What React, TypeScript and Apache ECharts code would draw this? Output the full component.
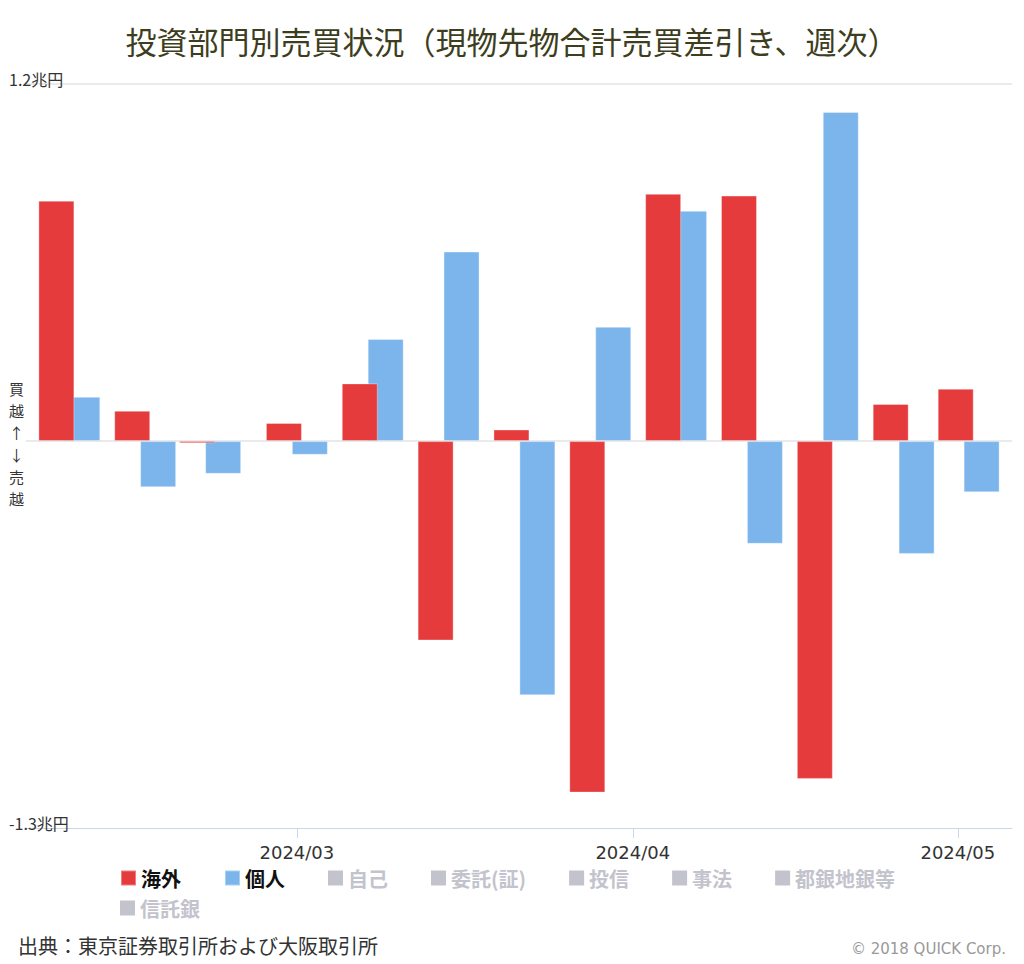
import React, { useEffect, useRef } from "react";
import * as echarts from "echarts";

// ---- data ----
const weekDates = [
  "2024-02-09", "2024-02-16", "2024-02-22", "2024-03-01", "2024-03-08",
  "2024-03-15", "2024-03-22", "2024-03-29", "2024-04-05", "2024-04-12",
  "2024-04-19", "2024-04-26", "2024-05-02",
];
// 兆円
const foreignValues = [0.808, 0.102, -0.007, 0.061, 0.194, -0.670, 0.039, -1.181, 0.831, 0.825, -1.135, 0.125, 0.176];
const individualValues = [0.149, -0.155, -0.110, -0.046, 0.343, 0.637, -0.854, 0.384, 0.774, -0.345, 1.106, -0.379, -0.172];
const hiddenSeriesNames = ["自己", "委託(証)", "投信", "事法", "都銀地銀等", "信託銀"];
const legendRow1 = ["海外", "個人", "自己", "委託(証)", "投信", "事法", "都銀地銀等"];
const legendRow2 = ["信託銀"];
const xStart = "2024-02-05";
const xEnd = "2024-05-06";
const yMin = -1.3;
const yMax = 1.2;
const yTickLabels: Record<string, string> = { "1.2": "1.2兆円", "-1.3": "-1.3兆円" };
const titleText = "投資部門別売買状況（現物先物合計売買差引き、週次）";
const sourceText = "出典：東京証券取引所および大阪取引所";
const creditText = "© 2018 QUICK Corp.";
const sideText = "買\n越\n↑\n↓\n売\n越";

function toTime(s: string) {
  const [y, m, d] = s.split("-").map(Number);
  return new Date(y, m - 1, d).getTime();
}

export default function App() {
  const ref = useRef<HTMLDivElement>(null);
  useEffect(() => {
    document.body.style.margin = "0";
    if (!ref.current) return;
    const chart = echarts.init(ref.current, null, { renderer: "svg" });
    const DAY = 86400000;
    const jp = '"Noto Sans CJK JP", sans-serif';
    const gridLeft = 26;
    const gridRight = 12;
    const axisLen = 1024 - gridLeft - gridRight;
    const barW = 36;
    const barGapRatio = -0.28;
    // total width of a bar group; ECharts widens a time axis extent by this amount
    const groupW = barW * 2 + barW * barGapRatio;
    const t0 = toTime(xStart);
    const t1 = toTime(xEnd);
    const center = (t0 + t1) / 2;
    const half = ((t1 - t0) * (1 - groupW / axisLen)) / 2;

    const splitColors: string[] = [];
    const nTicks = Math.round((yMax - yMin) / 0.1) + 1;
    for (let i = 0; i < nTicks; i++) {
      const v = yMin + i * 0.1;
      splitColors.push(Math.abs(v) < 1e-6 || Math.abs(v - yMax) < 1e-6 ? "#e3e3e3" : "rgba(0,0,0,0)");
    }
    const mk = (vals: number[]) => weekDates.map((d, i) => [toTime(d), vals[i]]);
    const legendCommon = {
      orient: "horizontal" as const,
      icon: "rect",
      itemWidth: 15,
      itemHeight: 15,
      itemGap: 43,
      inactiveColor: "#c3c3cd",
      textStyle: { fontSize: 20, fontWeight: "bold" as const, color: "#111", fontFamily: jp },
    };
    const selected: Record<string, boolean> = {};
    hiddenSeriesNames.forEach((n) => (selected[n] = false));
    chart.setOption({
      animation: false,
      backgroundColor: "#fff",
      title: {
        text: titleText,
        left: "center",
        top: 20,
        textStyle: { fontSize: 31, fontWeight: "normal", color: "#3d3d20", fontFamily: jp },
      },
      legend: [
        { ...legendCommon, data: legendRow1, left: 115, top: 863, selected },
        { ...legendCommon, data: legendRow2, left: 115, top: 893, selected },
      ],
      grid: { left: gridLeft, right: gridRight, top: 84, bottom: 136 },
      xAxis: {
        type: "time",
        min: center - half,
        max: center + half,
        minInterval: 28 * DAY,
        splitNumber: 3,
        axisLine: { show: true, onZero: false, lineStyle: { color: "#ccd6eb", width: 1 } },
        axisTick: { show: true, length: 10, lineStyle: { color: "#ccd6eb" } },
        splitLine: { show: false },
        axisLabel: {
          fontSize: 18,
          color: "#333",
          margin: 15,
          fontFamily: '"DejaVu Sans", sans-serif',
          formatter: (v: number) => {
            const d = new Date(v);
            return d.getFullYear() + "/" + String(d.getMonth() + 1).padStart(2, "0");
          },
        },
      },
      yAxis: {
        type: "value",
        min: yMin,
        max: yMax,
        interval: 0.1,
        axisLine: { show: false },
        axisTick: { show: false },
        splitLine: { show: true, lineStyle: { color: splitColors, width: 1.5 } },
        axisLabel: {
          inside: true,
          margin: -17,
          fontSize: 16,
          color: "#333",
          fontFamily: jp,
          verticalAlign: "bottom",
          lineHeight: 10,
          formatter: (v: number) => {
            const k = (Math.round(v * 10) / 10).toString();
            return yTickLabels[k] || "";
          },
        },
      },
      graphic: [
        {
          type: "text",
          left: 9,
          top: 377,
          style: { text: sideText, font: '15px "Noto Sans CJK JP"', fill: "#333", lineHeight: 22, align: "center" },
        },
        {
          type: "text",
          left: 18,
          top: 935,
          style: { text: sourceText, font: '20px "Noto Sans CJK JP"', fill: "#333" },
        },
        {
          type: "text",
          right: 18,
          top: 941,
          style: { text: creditText, font: '15px "DejaVu Sans"', fill: "#999" },
        },
      ],
      series: [
        {
          name: "海外",
          type: "bar",
          data: mk(foreignValues),
          barWidth: barW,
          barGap: "-28%",
          z: 3,
          itemStyle: { color: "#e53b3c", borderColor: "rgba(255,255,255,0.35)", borderWidth: 1 },
        },
        {
          name: "個人",
          type: "bar",
          data: mk(individualValues),
          barWidth: barW,
          barGap: "-28%",
          z: 2,
          itemStyle: { color: "#7cb5ec", borderColor: "rgba(255,255,255,0.35)", borderWidth: 1 },
        },
        ...hiddenSeriesNames.map((n) => ({
          name: n,
          type: "bar",
          data: [] as number[][],
          barWidth: barW,
          barGap: "-28%",
          itemStyle: { color: "#aaaaaa" },
        })),
      ],
    });
    return () => chart.dispose();
  }, []);
  return <div ref={ref} style={{ width: 1024, height: 964 }} />;
}
